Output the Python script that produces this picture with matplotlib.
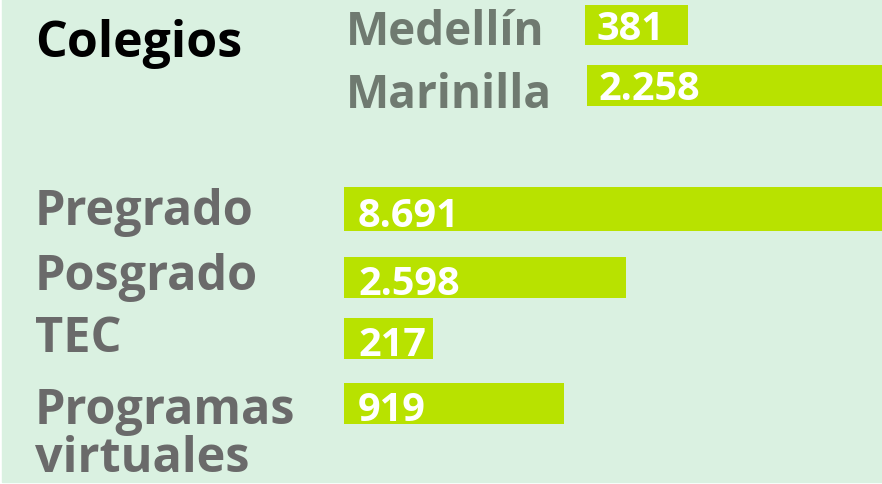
import matplotlib
matplotlib.use("Agg")
import matplotlib.pyplot as plt

# ---- data ----
school_labels = ["Medellín", "Marinilla"]
school_values = ["381", "2.258"]
school_bar_len = [103, 320]          # drawn bar length (reference scale, px units)

program_labels = ["Pregrado", "Posgrado", "TEC", "Programas\nvirtuales"]
program_values = ["8.691", "2.598", "217", "919"]
program_bar_len = [560, 282, 89, 220]  # drawn bar length (reference scale)

title = "Colegios"

# ---- style ----
BG = "#daf1e1"
BAR = "#b8e200"
GRAY = "#6a6a6a"
GRAY2 = "#6f7a70"
FONT = ["Open Sans", "DejaVu Sans"]

W, H = 882, 485
fig = plt.figure(figsize=(W / 100, H / 100), dpi=100)
fig.patch.set_facecolor("white")
ax = fig.add_axes([0, 0, 1, 1])
ax.set_xlim(0, W)
ax.set_ylim(H, 0)
ax.axis("off")
# background panel (thin white margin left/bottom like the reference)
ax.add_patch(plt.Rectangle((2, 0), W, H - 2, color=BG, zorder=0))

# title
ax.text(35, 57, title, fontsize=36, fontweight="bold", color="black",
        family=FONT, va="baseline", ha="left")

# schools
school_y = [26, 86.5]
school_h = [40, 41]
school_left = [585, 587]
school_base = [45, 108]
for lab, val, L, y, h, x0, b in zip(school_labels, school_values, school_bar_len,
                                    school_y, school_h, school_left, school_base):
    ax.barh(y, L, left=x0, height=h, color=BAR, zorder=1)
    ax.text(346, b, lab, fontsize=33, fontweight="bold", color=GRAY2,
            family=FONT, va="baseline", ha="left")
    ax.text(x0 + 11, y + 14, val, fontsize=28.5, fontweight="bold", color="white",
            family=FONT, va="baseline", ha="left", zorder=2)

# programs
prog_y = [210, 278.5, 339.5, 404.5]
prog_h = [44, 41, 41, 41]
prog_base = [225, 290, 352, 472]   # baseline of the last line of each label
for lab, val, L, y, h, b in zip(program_labels, program_values, program_bar_len,
                                prog_y, prog_h, prog_base):
    ax.barh(y, L, left=344, height=h, color=BAR, zorder=1)
    ax.text(35, b, lab, fontsize=35, fontweight="bold", color=GRAY,
            family=FONT, va="baseline", ha="left", linespacing=0.97)
    ax.text(358, y + 17, val, fontsize=28.5, fontweight="bold", color="white",
            family=FONT, va="baseline", ha="left", zorder=2)

fig.savefig("out.png", dpi=100, facecolor=fig.get_facecolor())
